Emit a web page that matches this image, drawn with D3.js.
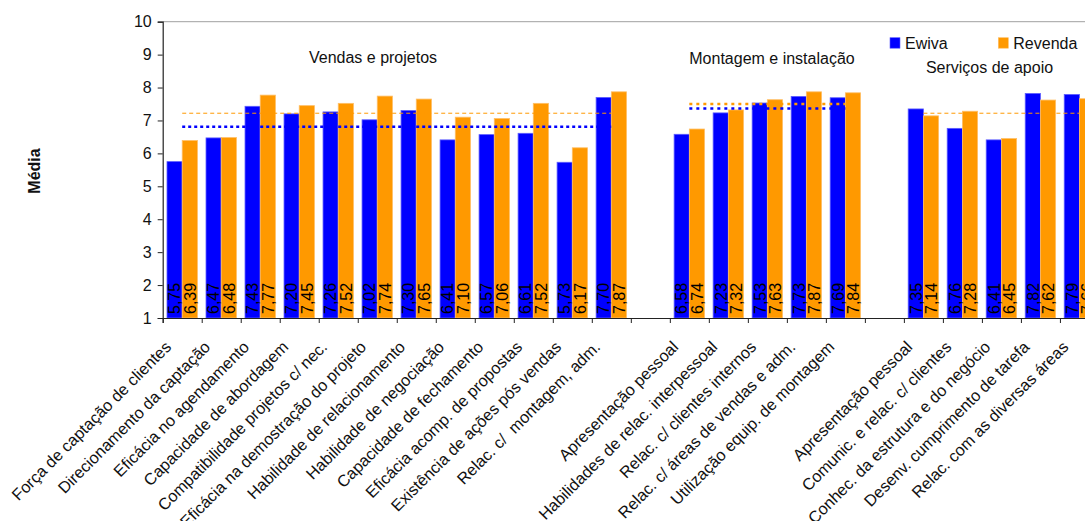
<!DOCTYPE html>
<html>
<head>
<meta charset="utf-8">
<script src="https://cdn.jsdelivr.net/npm/d3@7"></script>
<style>
  html, body { margin: 0; padding: 0; background: #fff; }
  svg { display: block; font-family: "Liberation Sans", Arial, sans-serif; }
</style>
</head>
<body>
<svg id="chart" width="1085" height="521"></svg>
<script>
// ---------------- data ----------------
const categories = [
  "Força de captação de clientes",
  "Direcionamento da captação",
  "Eficácia no agendamento",
  "Capacidade de abordagem",
  "Compatibilidade projetos c/ nec.",
  "Eficácia na demostração do projeto",
  "Habilidade de relacionamento",
  "Habilidade de negociação",
  "Capacidade de fechamento",
  "Eficácia acomp. de propostas",
  "Existência de ações pós vendas",
  "Relac. c/  montagem, adm.",
  "",
  "Apresentação pessoal",
  "Habilidades de relac. interpessoal",
  "Relac. c/ clientes internos",
  "Relac. c/ áreas de vendas e adm.",
  "Utilização equip. de montagem",
  "",
  "Apresentação pessoal",
  "Comunic. e relac. c/ clientes",
  "Conhec. da estrutura e do negócio",
  "Desenv. cumprimento de tarefa",
  "Relac. com as diversas áreas"
];
const evivaValues = [5.75, 6.47, 7.43, 7.20, 7.26, 7.02, 7.30, 6.41, 6.57, 6.61, 5.73, 7.70,
  null, 6.58, 7.23, 7.53, 7.73, 7.69,
  null, 7.35, 6.76, 6.41, 7.82, 7.79];
const revendaValues = [6.39, 6.48, 7.77, 7.45, 7.52, 7.74, 7.65, 7.10, 7.06, 7.52, 6.17, 7.87,
  null, 6.74, 7.32, 7.63, 7.87, 7.84,
  null, 7.14, 7.28, 6.45, 7.62, 7.66];
const seriesNames = ["Ewiva", "Revenda"];
const groupNames = ["Vendas e projetos", "Montagem e instalação", "Serviços de apoio"];
const groupFirst = [0, 13, 19];
const groupLast = [11, 17, 23];
const evivaMeans = [6.81, 7.36, null];
const revendaMeans = [7.22, 7.50, 7.22];
const yTicks = [1, 2, 3, 4, 5, 6, 7, 8, 9, 10];
const yTitle = "Média";

// ---------------- styles / layout ----------------
const colors = { Ewiva: "#0000ff", Revenda: "#ff9900" };
const strokes = { Ewiva: "#5c5cff", Revenda: "#ffbf66" };
const evivaLineStyle = [{w: 2.5, dash: "3,3"}, {w: 2.5, dash: "3,4"}, null];
const revendaLineStyle = [{w: 1, dash: "4,3"}, {w: 2.5, dash: "3,4"}, {w: 1, dash: "4,3"}];
const groupLabelPos = [[373, 63], [772, 64], [989.5, 72.5]];

const svg = d3.select("#chart");
const plotLeft = 162.7, plotTop = 21.7, plotBottom = 318, catW = 39.01;
const x = d3.scaleBand().domain(d3.range(categories.length))
  .range([plotLeft, plotLeft + catW * categories.length]).padding(0);
const xs = d3.scaleBand().domain(seriesNames).range([4.3, 34.7]).padding(0);
const y = d3.scaleLinear().domain([1, 10]).range([plotBottom, plotTop]);

// plot frame (top)
svg.append("line").attr("x1", plotLeft).attr("x2", 1085).attr("y1", plotTop).attr("y2", plotTop)
  .attr("stroke", "#a0a0a0").attr("stroke-width", 1);

// bars
const rows = categories.map((c, i) => ({ i, Ewiva: evivaValues[i], Revenda: revendaValues[i] }));
const g = svg.append("g");
rows.forEach(r => {
  seriesNames.forEach(s => {
    const v = r[s];
    if (v == null) return;
    const bx = x(r.i) + xs(s);
    g.append("rect")
      .attr("x", bx).attr("y", y(v))
      .attr("width", xs.bandwidth()).attr("height", y(1) - y(v))
      .attr("fill", colors[s]).attr("stroke", strokes[s]).attr("stroke-width", 0.8);
  });
});

// value labels
rows.forEach(r => {
  seriesNames.forEach(s => {
    const v = r[s];
    if (v == null) return;
    const cx = x(r.i) + xs(s) + xs.bandwidth() / 2;
    svg.append("text")
      .attr("transform", `translate(${cx},${plotBottom - 4}) rotate(-90)`)
      .attr("dy", "0.36em")
      .attr("font-size", 16)
      .attr("fill", "#000")
      .text(d3.format(".2f")(v).replace(".", ","));
  });
});

// mean lines
function meanLine(vals, styles, color) {
  vals.forEach((v, k) => {
    if (v == null) return;
    const st = styles[k];
    svg.append("line")
      .attr("x1", x(groupFirst[k]) + catW / 2)
      .attr("x2", x(groupLast[k]) + catW / 2)
      .attr("y1", y(v)).attr("y2", y(v))
      .attr("stroke", color).attr("stroke-width", st.w)
      .attr("stroke-dasharray", st.dash);
  });
}
meanLine(revendaMeans, revendaLineStyle, colors.Revenda);
meanLine(evivaMeans, evivaLineStyle, colors.Ewiva);

// y axis
const yAxis = d3.axisLeft(y).tickValues(yTicks).tickSize(5).tickPadding(6).tickFormat(d3.format("d"));
const ya = svg.append("g").attr("transform", `translate(${plotLeft},0)`).call(yAxis);
ya.select(".domain").attr("stroke", "#222").attr("stroke-width", 1.2);
ya.selectAll(".tick line").attr("stroke", "#222");
ya.selectAll(".tick text").attr("font-size", 16).attr("fill", "#111")
  .attr("font-family", "Liberation Sans, Arial, sans-serif");

// x axis (ticks at category boundaries)
const xb = d3.scaleLinear().domain([0, categories.length]).range([plotLeft, plotLeft + catW * categories.length]);
const xAxis = d3.axisBottom(xb).tickValues(d3.range(categories.length + 1))
  .tickSize(5).tickFormat("");
const xa = svg.append("g").attr("transform", `translate(0,${plotBottom})`).call(xAxis);
xa.select(".domain").attr("stroke", "#222").attr("stroke-width", 1.2);
xa.selectAll(".tick line").attr("stroke", "#222");

// category labels
categories.forEach((c, i) => {
  if (!c) return;
  const cx = x(i) + catW / 2;
  svg.append("text")
    .attr("transform", `translate(${cx - 10},${plotBottom + 30}) rotate(-45)`)
    .attr("text-anchor", "end")
    .attr("font-size", 16.3)
    .attr("fill", "#111")
    .style("white-space", "pre")
    .text(c);
});

// y title
svg.append("text")
  .attr("transform", `translate(39.5,171) rotate(-90)`)
  .attr("text-anchor", "middle")
  .attr("font-size", 16).attr("font-weight", "bold").attr("fill", "#111")
  .text(yTitle);

// group titles
groupNames.forEach((n, k) => {
  svg.append("text").attr("x", groupLabelPos[k][0]).attr("y", groupLabelPos[k][1])
    .attr("text-anchor", "middle").attr("font-size", 16).attr("fill", "#111").text(n);
});

// legend
const legendX = [890, 998.3];
seriesNames.forEach((s, k) => {
  svg.append("rect").attr("x", legendX[k]).attr("y", 37.7).attr("width", 10).attr("height", 10.5)
    .attr("fill", colors[s]).attr("stroke", strokes[s]).attr("stroke-width", 0.6);
  svg.append("text").attr("x", legendX[k] + 15).attr("y", 48.5)
    .attr("font-size", 16).attr("fill", "#111").text(s);
});
</script>
</body>
</html>
